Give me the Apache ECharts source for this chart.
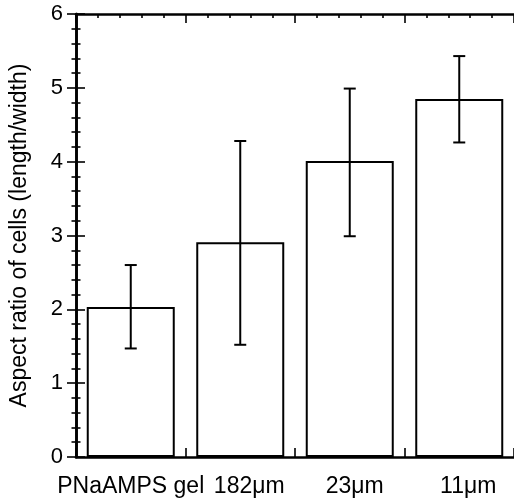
<!DOCTYPE html>
<html>
<head>
<meta charset="utf-8">
<script src="https://cdn.jsdelivr.net/npm/echarts@6/dist/echarts.min.js"></script>
<style>html,body{margin:0;padding:0;background:#fff;}#c{width:514px;height:503px;}</style>
</head>
<body>
<div id="c"></div>
<script>
var categories = ['PNaAMPS gel', '182μm', '23μm', '11μm'];
var means = [2.03, 2.91, 4.01, 4.85];
var errUpper = [2.60, 4.28, 4.99, 5.43];
var errLower = [1.47, 1.52, 2.99, 4.26];
var yTicks = [0, 1, 2, 3, 4, 5, 6];

var FONT = '"Liberation Sans", Arial, sans-serif';
var labelShift = [0, 9, 5, 9];
var chart = echarts.init(document.getElementById('c'), null, {renderer: 'canvas'});

var errData = categories.map(function (c, i) { return [i, errLower[i], errUpper[i]]; });

var richLabels = {};
labelShift.forEach(function (s, i) {
  richLabels['l' + i] = {color: '#000', fontSize: 23, fontFamily: FONT, padding: [0, 0, 0, s * 2]};
});

function tickAxisX(pos) {
  return {
    type: 'value', position: pos, min: 0, max: categories.length, interval: 1,
    axisLine: {show: true, onZero: false, lineStyle: {color: '#000', width: 2.6}},
    axisTick: {show: true, inside: true, length: 9, lineStyle: {color: '#000', width: 1.6}},
    minorTick: {show: true, splitNumber: 5, length: 4, lineStyle: {color: '#000', width: 1.6}},
    axisLabel: {show: false}, splitLine: {show: false}, minorSplitLine: {show: false}
  };
}

function yAx(pos, withLabel) {
  var a = {
    type: 'value', position: pos, min: yTicks[0], max: yTicks[yTicks.length - 1], interval: 1,
    axisLine: {show: true, lineStyle: {color: '#000', width: 2.6}},
    axisTick: {show: true, inside: true, length: 9, lineStyle: {color: '#000', width: 1.6}},
    minorTick: {show: true, splitNumber: 5, length: 4.5, lineStyle: {color: '#000', width: 1.6}},
    axisLabel: withLabel ? {color: '#000', fontSize: 22, fontFamily: FONT, margin: 13} : {show: false},
    splitLine: {show: false}, minorSplitLine: {show: false}
  };
  if (withLabel) {
    a.name = 'Aspect ratio of cells (length/width)';
    a.nameLocation = 'middle';
    a.nameGap = 45;
    a.nameTextStyle = {color: '#000', fontSize: 23, fontFamily: FONT};
  }
  return a;
}

var option = {
  animation: false,
  backgroundColor: '#fff',
  grid: {left: 76, top: 14, width: 445, height: 443, containLabel: false},
  xAxis: [
    {
      type: 'category', data: categories, position: 'bottom',
      axisLine: {show: false}, axisTick: {show: false},
      axisLabel: {
        color: '#000', fontSize: 23, fontFamily: FONT, margin: 18, interval: 0,
        formatter: function (v, i) { return '{l' + i + '|' + v + '}'; },
        rich: richLabels
      },
      splitLine: {show: false}
    },
    tickAxisX('bottom'),
    tickAxisX('top')
  ],
  yAxis: [yAx('left', true), yAx('right', false)],
  series: [
    {
      type: 'bar', xAxisIndex: 0, yAxisIndex: 0, data: means, barWidth: 88,
      itemStyle: {color: '#fff', borderColor: '#000', borderWidth: 2},
      z: 2
    },
    {
      type: 'custom', xAxisIndex: 0, yAxisIndex: 0, data: errData, z: 5,
      renderItem: function (params, api) {
        var x = api.value(0);
        var lo = api.coord([x, api.value(1)]);
        var hi = api.coord([x, api.value(2)]);
        var cap = 6;
        var st = {stroke: '#000', lineWidth: 2};
        return {
          type: 'group',
          children: [
            {type: 'line', shape: {x1: lo[0], y1: lo[1], x2: hi[0], y2: hi[1]}, style: st},
            {type: 'line', shape: {x1: hi[0] - cap, y1: hi[1], x2: hi[0] + cap, y2: hi[1]}, style: st},
            {type: 'line', shape: {x1: lo[0] - cap, y1: lo[1], x2: lo[0] + cap, y2: lo[1]}, style: st}
          ]
        };
      }
    }
  ]
};
chart.setOption(option);
</script>
</body>
</html>
